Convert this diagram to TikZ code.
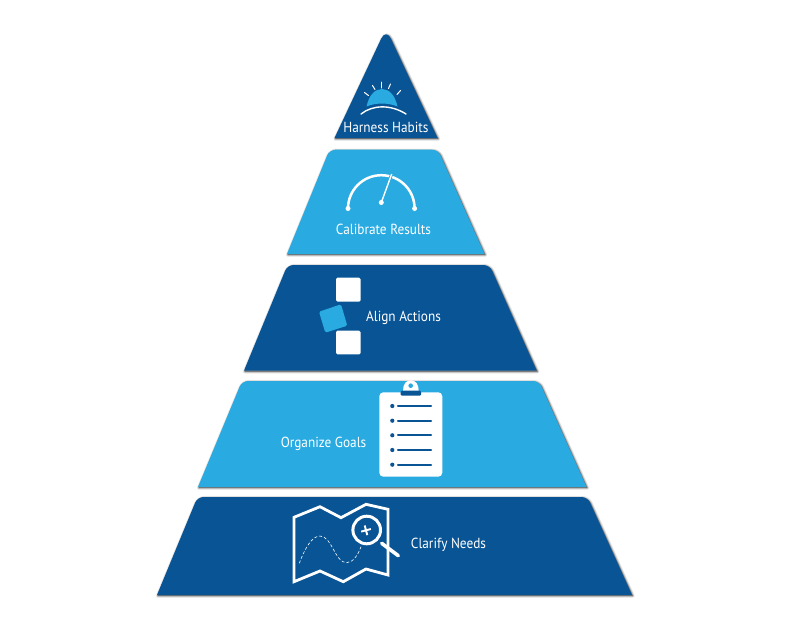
\documentclass[tikz,border=0pt]{standalone}
\usepackage{fontspec}
\setmainfont[FakeStretch=0.91]{PT Sans}
\definecolor{navy}{HTML}{085495}
\definecolor{sky}{HTML}{29ABE2}
\tikzset{x=1pt,y=-1pt,
  lbl/.style={text=white,font=\fontsize{14.6}{14.6}\selectfont,inner sep=0pt,anchor=center},
  iconw/.style={draw=white,line cap=round,line join=miter},
}
\newcommand{\slab}[2]{%
  \foreach \w/\o in {4/0.06,3/0.08,2/0.11,1/0.15}{
    \fill[black,draw=black,opacity=\o,line width=\w pt,line join=round,shift={(0.8,0.8)}] #2;
  }
  \fill[#1] #2;
}
\begin{document}
\begin{tikzpicture}
\useasboundingbox (0,0) rectangle (792,619);
\fill[white] (0,0) rectangle (792,619);
% layers
\slab{navy}{(334.5,138) [rounded corners=11pt] -- (386,28.5) [sharp corners] -- (437.5,138) -- cycle}
\slab{sky}{(287,254) [rounded corners=6pt] -- (329.5,149.7) -- (438,149.7) [sharp corners] -- (484.5,254) -- cycle}
\slab{navy}{(244,370.7) [rounded corners=6pt] -- (287.5,265) -- (489.5,265) [sharp corners] -- (536.7,370.7) -- cycle}
\slab{sky}{(198,487) [rounded corners=6pt] -- (242,381) -- (539,381) [sharp corners] -- (586.5,487) -- cycle}
\slab{navy}{(157,595) [rounded corners=6pt] -- (197.5,497) -- (587.5,497) [sharp corners] -- (632,595) -- cycle}
% sun
\fill[sky] (366.5,106.5) .. controls (369,95) and (375,89) .. (382,89) .. controls (389,89) and (395,95) .. (397.5,106.5) .. controls (388,102.5) and (376,102.5) .. (366.5,106.5) -- cycle;
\draw[iconw,line width=1.4pt] (361,114) .. controls (373,104.5) and (391,104.5) .. (406,114);
\draw[iconw,line width=1pt] (381.5,82) -- (381.5,88);
\draw[iconw,line width=1pt] (372.5,85.5) -- (375,89.5);
\draw[iconw,line width=1pt] (390.5,84) -- (388.5,88.5);
\draw[iconw,line width=1pt] (364.5,92.5) -- (368.5,95.5);
\draw[iconw,line width=1pt] (400.5,90.5) -- (397,94.5);
\node[lbl] (habits) at (386,127.5) {Harness Habits};
% gauge
\draw[white,line width=2.5pt] (348,208.5) arc[start angle=180,end angle=360,radius=33.3];
\fill[white] (348,208.5) circle (2.5) (414.6,208.5) circle (2.5);
\draw[sky,line width=3pt] (381.3,202.5) -- (391.7,174);
\draw[white,line width=1.4pt] (381.3,202.5) -- (391.7,174);
\fill[white] (381.3,202.5) circle (2.5);
\node[lbl] (results) at (383.5,229.5) {Calibrate Results};
% align
\fill[white,rounded corners=1.5pt] (336,277.7) rectangle (360.7,301.7);
\fill[white,rounded corners=1.5pt] (336,330.7) rectangle (360.7,354.3);
\fill[sky,rounded corners=1.5pt] (319,311.7) -- (341,304.3) -- (347.3,325.7) -- (325.3,332.7) -- cycle;
\node[lbl] (actions) at (403.5,317.5) {Align Actions};
% clipboard
\fill[white,rounded corners=4pt] (379.3,392.3) rectangle (442.3,476.7);
\fill[white] (403,391) .. controls (403,384) and (406,380.3) .. (410.8,380.3) .. controls (415.6,380.3) and (418.7,384) .. (418.7,391) -- cycle;
\fill[sky] (410.7,385.7) circle (2.3);
\fill[navy,rounded corners=1.2pt] (400.7,390.7) rectangle (421,395.7);
\foreach \yy in {406,420.7,435.3,450,464.7}{
  \fill[navy] (392.3,\yy) circle (2.1);
  \draw[navy,line width=2.1pt,line cap=round] (398,\yy) -- (431,\yy);
}
\node[lbl] (goals) at (323.5,443.5) {Organize Goals};
% map
\draw[white,line width=2.8pt,line join=miter] (294,517.3) -- (320,506.7) -- (341,517.7) -- (366,504.3) -- (388,509.3) -- (388,575) -- (366,569) -- (343.3,581.7) -- (320,571) -- (294,581.7) -- cycle;
\draw[white,line width=0.6pt,dash pattern=on 3pt off 2pt] (299.3,563.3) .. controls (305,548) and (312,536) .. (320,536) .. controls (332,536) and (335,563) .. (346.7,562.7) .. controls (353,562.5) and (358,555) .. (361,546.7);
\fill[navy] (366.7,530) circle (15.5);
\draw[white,line width=3pt] (366.7,530) circle (13.8);
\draw[white,line width=3.6pt,line cap=round] (381.7,543.3) -- (398.3,555.7);
\draw[white,line width=1.9pt,rotate around={15:(366,530.3)}] (361,530.3) -- (371,530.3) (366,525.3) -- (366,535.3);
\node[lbl] (needs) at (448.5,544.5) {Clarify Needs};
\end{tikzpicture}
\end{document}
